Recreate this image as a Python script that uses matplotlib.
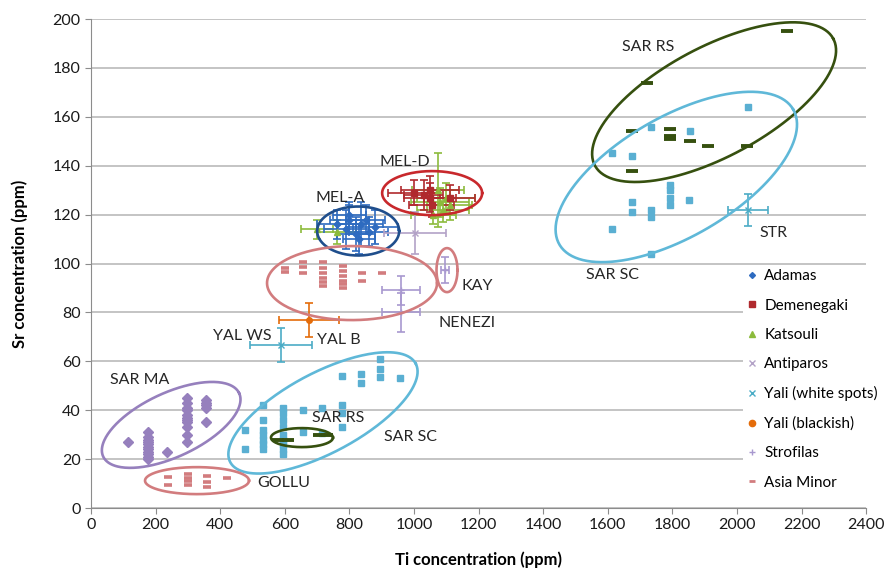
import numpy as np
import matplotlib
matplotlib.use('Agg')
import matplotlib.pyplot as plt
from matplotlib.lines import Line2D

plt.rcParams['font.family'] = ['Lato', 'DejaVu Sans']

# ---- data (Ti ppm, Sr ppm, Ti err, Sr err) ----
adamas_ti = [760, 790, 800, 820, 835, 850, 860, 880, 830, 800]
adamas_sr = [116, 114, 118, 112, 116, 118, 113, 115, 110, 120]
adamas_xerr = [60, 70, 60, 60, 70, 60, 60, 70, 50, 50]
adamas_yerr = [6, 8, 6, 7, 9, 6, 6, 7, 6, 5]

demen_ti = [1000, 1050, 1050, 1055, 1110, 1030]
demen_sr = [129, 130, 127, 124, 127, 128]
demen_xerr = [80, 90, 80, 70, 80, 60]
demen_yerr = [5, 6, 6, 5, 5, 6]

katso_ti = [700, 760, 1075, 1080, 1090, 1100, 1060, 1110]
katso_sr = [114, 113, 130, 125, 122, 127, 120, 124]
katso_xerr = [50, 60, 80, 90, 80, 90, 70, 70]
katso_yerr = [4, 5, 15, 6, 5, 6, 4, 6]

antip_ti = [1003]
antip_sr = [112.5]
antip_xerr = [97]
antip_yerr = [8.5]

yaliw_ti = [588, 2035]
yaliw_sr = [66.7, 122]
yaliw_xerr = [96, 62]
yaliw_yerr = [7, 6.5]

yalib_ti = [675]
yalib_sr = [77]
yalib_xerr = [93]
yalib_yerr = [7]

strof_ti = [960, 960, 1096]
strof_sr = [89, 80, 97.4]
strof_xerr = [58, 58, 13]
strof_yerr = [6, 8, 5.3]

asia_ti = [601, 601, 657, 657, 657, 719, 719, 719, 719, 719, 719,
           780, 780, 780, 780, 780, 780, 840, 840, 901,
           239, 239, 300, 300, 300, 300, 360, 360, 360, 420]
asia_sr = [98, 96.5, 100.5, 98.5, 96, 100.5, 98, 96, 94, 92.5, 91,
           99, 97, 95, 93, 91.5, 90, 96, 93, 96,
           12.7, 9.6, 14, 12.4, 11, 9.5, 13, 10.8, 8.6, 12.3]

sar_ma_ti = [115] + [176] * 11 + [235] + [297] * 11 + [356] * 5
sar_ma_sr = [27, 20, 21, 22, 23, 24, 25, 26, 27, 28, 29, 31, 23,
             27, 30, 33, 35, 36, 37, 38, 40, 41, 43, 45, 35, 41, 42, 43, 44]

sar_sc_ti = [477, 477, 533, 533, 533, 533, 533, 533, 533,
             595, 595, 595, 595, 595, 595, 595, 595, 595,
             657, 657, 715, 715, 777, 777, 777,
             777, 836, 836, 895, 895, 895, 957,
             2035, 1734, 1855, 1614, 1675, 1793, 1793, 1793, 1793, 1852,
             1675, 1675, 1734, 1734, 1614, 1734]
sar_sc_sr = [32, 24, 42, 36, 32, 30, 28, 26, 24,
             41, 39, 36, 33, 30, 28, 26, 24, 22,
             40, 31, 41, 30.5, 42, 39, 33,
             54, 55, 51, 61, 57, 53.5, 53,
             164, 156, 154, 145, 144, 132, 130, 127, 124, 126,
             125, 121, 122, 119, 114, 104]

sar_rs_ti = [580, 610, 705, 730, 2155, 1722, 1675, 1793, 1793, 1793, 1855, 1911, 2031, 1675]
sar_rs_sr = [28, 28, 30, 30, 195, 174, 154, 155, 152, 151, 150, 148, 148, 138]

# ---- figure ----
fig = plt.figure(figsize=(8.93, 5.73), dpi=100)
ax = fig.add_axes([0.102, 0.1134, 0.868, 0.8534])
ax.set_xlim(0, 2400)
ax.set_ylim(0, 200)

# px per data unit (used for ellipse shapes)
sx = 775 / 2400
sy = 489 / 200


def ellipse(cx, cy, a, b, ang, color):
    t = np.linspace(0, 2 * np.pi, 240)
    th = np.radians(ang)
    xp = a * np.cos(t) * np.cos(th) - b * np.sin(t) * np.sin(th)
    yp = a * np.cos(t) * np.sin(th) + b * np.sin(t) * np.cos(th)
    ax.plot(cx + xp / sx, cy + yp / sy, color=color, lw=1.9, zorder=5)


ax.set_yticks(np.arange(0, 201, 20))
ax.set_xticks(np.arange(0, 2401, 200))
ax.yaxis.grid(True, color='#b4b4b4', lw=1.1)
ax.set_axisbelow(True)
for s in ['top', 'right']:
    ax.spines[s].set_visible(False)
for s in ['left', 'bottom']:
    ax.spines[s].set_color('#8c8c8c')
ax.tick_params(colors='#8c8c8c', length=4, labelsize=11.5, labelcolor='#1a1a1a')

eb = dict(ls='none', elinewidth=1.2, capsize=3, capthick=1.2, zorder=4)
ax.errorbar(katso_ti, katso_sr, xerr=katso_xerr, yerr=katso_yerr, fmt='^', ms=4, color='#8cbb3c', **eb)
ax.errorbar(adamas_ti, adamas_sr, xerr=adamas_xerr, yerr=adamas_yerr, fmt='D', ms=3.5, color='#2e6bc0', **eb)
ax.errorbar(demen_ti, demen_sr, xerr=demen_xerr, yerr=demen_yerr, fmt='s', ms=5, color='#b02a2e', **eb)
ax.errorbar(antip_ti, antip_sr, xerr=antip_xerr, yerr=antip_yerr, fmt='x', ms=5, color='#b3a2c7', **eb)
ax.errorbar(yaliw_ti, yaliw_sr, xerr=yaliw_xerr, yerr=yaliw_yerr, fmt='x', ms=5, color='#4bacc6', **eb)
ax.errorbar(yalib_ti, yalib_sr, xerr=yalib_xerr, yerr=yalib_yerr, fmt='o', ms=4, color='#e46c0a', **eb)
ax.errorbar(strof_ti, strof_sr, xerr=strof_xerr, yerr=strof_yerr, fmt='+', ms=5, color='#a898cf', **eb)

ax.plot(asia_ti, asia_sr, ls='none', marker='_', ms=6, mew=2.6, color='#d27c7e', zorder=4)
ax.plot(sar_ma_ti, sar_ma_sr, ls='none', marker='D', ms=5, color='#9680bd', zorder=4)
ax.plot(sar_sc_ti, sar_sc_sr, ls='none', marker='s', ms=4.5, color='#5aafd2', zorder=4)
ax.plot(sar_rs_ti, sar_rs_sr, ls='none', marker='_', ms=9, mew=2.8, color='#36500f', zorder=4)

# grouping ellipses
ellipse(1929, 166, 135, 55, 28, '#36500f')
ellipse(1812, 135.4, 135, 60, 30, '#5fb8d8')
ellipse(1056, 128.8, 50, 22, 0, '#c8282c')
ellipse(827, 113.3, 41, 24.5, 0, '#1f4e8c')
ellipse(808, 92, 85, 37, 0, '#d27c7e')
ellipse(1102, 97.3, 10.5, 22, 0, '#d27c7e')
ellipse(248, 34, 75, 32, 25, '#9680bd')
ellipse(718, 38.9, 105, 40, 28, '#5fb8d8')
ellipse(653, 28.8, 31, 9.5, 0, '#36500f')
ellipse(328, 11.2, 52, 13.5, 0, '#d27c7e')

labels = [('SAR RS', 1725, 188.5), ('SAR SC', 1613, 95.3), ('STR', 2112, 112.5),
          ('MEL-D', 972, 141.5), ('MEL-A', 771, 127), ('KAY', 1195, 91),
          ('NENEZI', 1164, 75.7), ('YAL WS', 468, 70.3), ('YAL B', 768, 68.7),
          ('SAR MA', 152, 52.4), ('SAR RS', 765, 36.8), ('SAR SC', 988, 29),
          ('GOLLU', 595, 10.2)]
for txt, x, y in labels:
    ax.text(x, y, txt, ha='center', va='center', fontsize=11.5, color='#262626', zorder=6)

ax.set_xlabel('Ti concentration (ppm)', fontsize=12, fontweight='bold', labelpad=14)
ax.set_ylabel('Sr concentration (ppm)', fontsize=12, fontweight='bold', labelpad=18)

handles = [
    Line2D([], [], ls='none', marker='D', ms=3, color='#2e6bc0'),
    Line2D([], [], ls='none', marker='s', ms=5, color='#b02a2e'),
    Line2D([], [], ls='none', marker='^', ms=5, color='#8cbb3c'),
    Line2D([], [], ls='none', marker='x', ms=5, color='#b3a2c7'),
    Line2D([], [], ls='none', marker='x', ms=5, color='#4bacc6'),
    Line2D([], [], ls='none', marker='o', ms=4.5, color='#e46c0a'),
    Line2D([], [], ls='none', marker='+', ms=5, color='#a898cf'),
    Line2D([], [], ls='none', marker='_', ms=5, mew=2, color='#d27c7e'),
]
names = ['Adamas', 'Demenegaki', 'Katsouli', 'Antiparos', 'Yali (white spots)',
         'Yali (blackish)', 'Strofilas', 'Asia Minor']
leg = fig.legend(handles, names, loc='upper left', bbox_to_anchor=(0.832, 0.538),
                 frameon=True, fontsize=11, handlelength=0.6, handletextpad=0.5,
                 labelspacing=1.0, borderpad=0.3, borderaxespad=0)
leg.get_frame().set_facecolor('white')
leg.get_frame().set_edgecolor('none')
leg.get_frame().set_alpha(1)

fig.savefig('out.png', dpi=100)
